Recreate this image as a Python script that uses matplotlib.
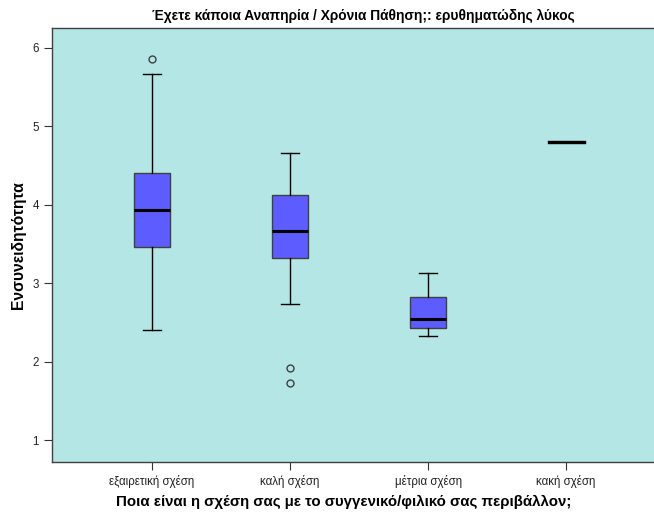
import matplotlib
matplotlib.use("Agg")
import matplotlib.pyplot as plt

plt.rcParams['font.family'] = ['Liberation Sans', 'DejaVu Sans']

categories = ["εξαιρετική σχέση", "καλή σχέση", "μέτρια σχέση", "κακή σχέση"]
whislo = [2.40, 2.73, 2.33, 4.80]
q1 = [3.46, 3.32, 2.43, 4.80]
med = [3.94, 3.66, 2.54, 4.80]
q3 = [4.40, 4.13, 2.83, 4.80]
whishi = [5.67, 4.66, 3.13, 4.80]
fliers = [[5.86], [1.92, 1.73], [], []]

title = "Έχετε κάποια Αναπηρία / Χρόνια Πάθηση;: ερυθηματώδης λύκος"
xlabel = "Ποια είναι η σχέση σας με το συγγενικό/φιλικό σας περιβάλλον;"
ylabel = "Ενσυνειδητότητα"
yticks = [1, 2, 3, 4, 5, 6]

fig = plt.figure(figsize=(6.54, 5.14), dpi=100)
ax = fig.add_axes([52/654, 1-462/514, 1-52/654, (462-28)/514])
ax.set_facecolor('#b4e6e6')

stats = []
for i in range(len(categories)):
    stats.append(dict(label=categories[i], whislo=whislo[i], q1=q1[i], med=med[i],
                      q3=q3[i], whishi=whishi[i], fliers=fliers[i]))

pos = list(range(len(categories)))
ax.bxp(stats, positions=pos, widths=0.255, patch_artist=True, showfliers=True,
       boxprops=dict(facecolor='#5c5cff', edgecolor='#404040', linewidth=1.0),
       medianprops=dict(color='black', linewidth=2.2),
       whiskerprops=dict(color='black', linewidth=1.0),
       capprops=dict(color='black', linewidth=1.0),
       capwidths=0.125,
       flierprops=dict(marker='o', markerfacecolor='none', markeredgecolor='#404040',
                       markersize=5, markeredgewidth=1.0))
# single-value group: draw thick line
ax.plot([3 - 0.127, 3 + 0.127], [med[3], med[3]], color='black', linewidth=2.4)

ax.set_xlim(-0.725, 3.637)
ax.set_ylim(0.72, 6.255)
ax.set_yticks(yticks)
ax.set_yticklabels([str(t) for t in yticks])
ax.set_xticks(pos)
ax.set_xticklabels(categories)
ax.tick_params(axis='both', labelsize=8.3, colors='#333333', length=6, width=0.8, labelcolor='#222222')
ax.tick_params(axis='x', pad=3)
for s in ['left', 'bottom', 'top']:
    ax.spines[s].set_color('#404040')
    ax.spines[s].set_linewidth(1.0)
ax.spines['right'].set_visible(False)

ax.set_ylabel(ylabel, fontsize=11.3, fontweight='bold')
ax.yaxis.set_label_coords(-0.043, 0.5)
fig.text(344/654, 1-502/514, xlabel, fontsize=10.8, fontweight='bold', ha='center', va='center')
fig.text(363/654, 1-16/514, title, fontsize=9.9, fontweight='bold', ha='center', va='center')

fig.savefig('out.png', dpi=100)
